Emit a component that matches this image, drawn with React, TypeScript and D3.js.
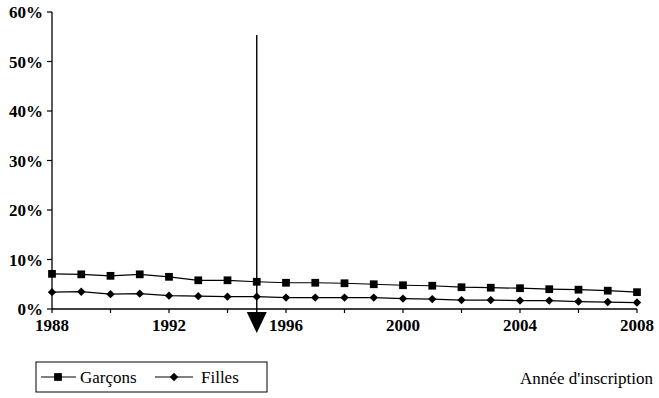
import React from "react";
import * as d3 from "d3";

const years = d3.range(1988, 2009);
const garcons = [7.1, 7.0, 6.7, 7.0, 6.5, 5.8, 5.8, 5.5, 5.3, 5.3, 5.2, 5.0, 4.8, 4.7, 4.4, 4.3, 4.2, 4.0, 3.9, 3.7, 3.4];
const filles = [3.4, 3.5, 3.0, 3.1, 2.7, 2.6, 2.5, 2.5, 2.3, 2.3, 2.3, 2.3, 2.1, 2.0, 1.8, 1.8, 1.7, 1.7, 1.5, 1.4, 1.3];
const yTicks = [0, 10, 20, 30, 40, 50, 60];
const xLabelYears = [1988, 1992, 1996, 2000, 2004, 2008];
const markerYear = 1995;

const W = 659, H = 398;
const font = "Liberation Serif";

export default function App() {
  const x = d3.scaleLinear().domain([1988, 2008]).range([52, 637]);
  const y = d3.scaleLinear().domain([0, 60]).range([309, 12]);
  const line = d3.line().x(d => x(d[0])).y(d => y(d[1]));
  const sq = d3.symbol().type(d3.symbolSquare).size(60)();
  const dia = d3.symbol().type(d3.symbolDiamond2).size(45)();
  const mx = x(markerYear);

  const series = [
    { vals: garcons, sym: sq },
    { vals: filles, sym: dia },
  ];

  const tStyle = { fontFamily: font, fontSize: "17px" };

  return (
    <svg width={W} height={H} style={{ position: "absolute", left: 0, top: 0 }}>
      <rect width={W} height={H} fill="#fff" />

      {/* y axis */}
      <line x1={52} x2={52} y1={y(60)} y2={y(0)} stroke="#000" strokeWidth={1.3} />
      {yTicks.map(t => (
        <g key={t}>
          <line x1={47} x2={52} y1={y(t)} y2={y(t)} stroke="#000" strokeWidth={1.2} />
          <text x={43} y={y(t) + 6} textAnchor="end" style={{ ...tStyle, fontWeight: "bold" }}>{t}%</text>
        </g>
      ))}

      {/* x axis */}
      <line x1={x(1988)} x2={x(2008)} y1={y(0)} y2={y(0)} stroke="#000" strokeWidth={1.3} />
      {d3.range(1988, 2009, 2).map(t => (
        <line key={t} x1={x(t)} x2={x(t)} y1={y(0)} y2={y(0) + 4} stroke="#000" strokeWidth={1.2} />
      ))}
      {xLabelYears.map(t => (
        <text key={t} x={x(t)} y={331} textAnchor="middle" style={{ ...tStyle, fontWeight: "bold" }}>{t}</text>
      ))}

      {series.map((s, si) => {
        const pts = years.map((yr, i) => [yr, s.vals[i]]);
        return (
          <g key={si}>
            <path d={line(pts)} fill="none" stroke="#000" strokeWidth={1.2} />
            {pts.map(p => (
              <path key={p[0]} d={s.sym} transform={`translate(${x(p[0])},${y(p[1])})`} fill="#000" />
            ))}
          </g>
        );
      })}

      {/* vertical marker with arrow */}
      <line x1={mx} x2={mx} y1={35} y2={313} stroke="#000" strokeWidth={1.4} />
      <path d={`M${mx - 10},312 L${mx + 10},312 L${mx},333 Z`} fill="#000" />

      {/* legend */}
      <rect x={36} y={362} width={231} height={30} fill="none" stroke="#000" strokeWidth={1} />
      <line x1={41} x2={76} y1={377} y2={377} stroke="#000" strokeWidth={1.2} />
      <path d={sq} transform="translate(58,377)" fill="#000" />
      <text x={80} y={383} style={tStyle}>Garçons</text>
      <line x1={155} x2={193} y1={377} y2={377} stroke="#000" strokeWidth={1.2} />
      <path d={dia} transform="translate(174,377)" fill="#000" />
      <text x={201} y={383} style={tStyle}>Filles</text>

      <text x={653} y={384} textAnchor="end" style={tStyle}>Année d'inscription</text>
    </svg>
  );
}
